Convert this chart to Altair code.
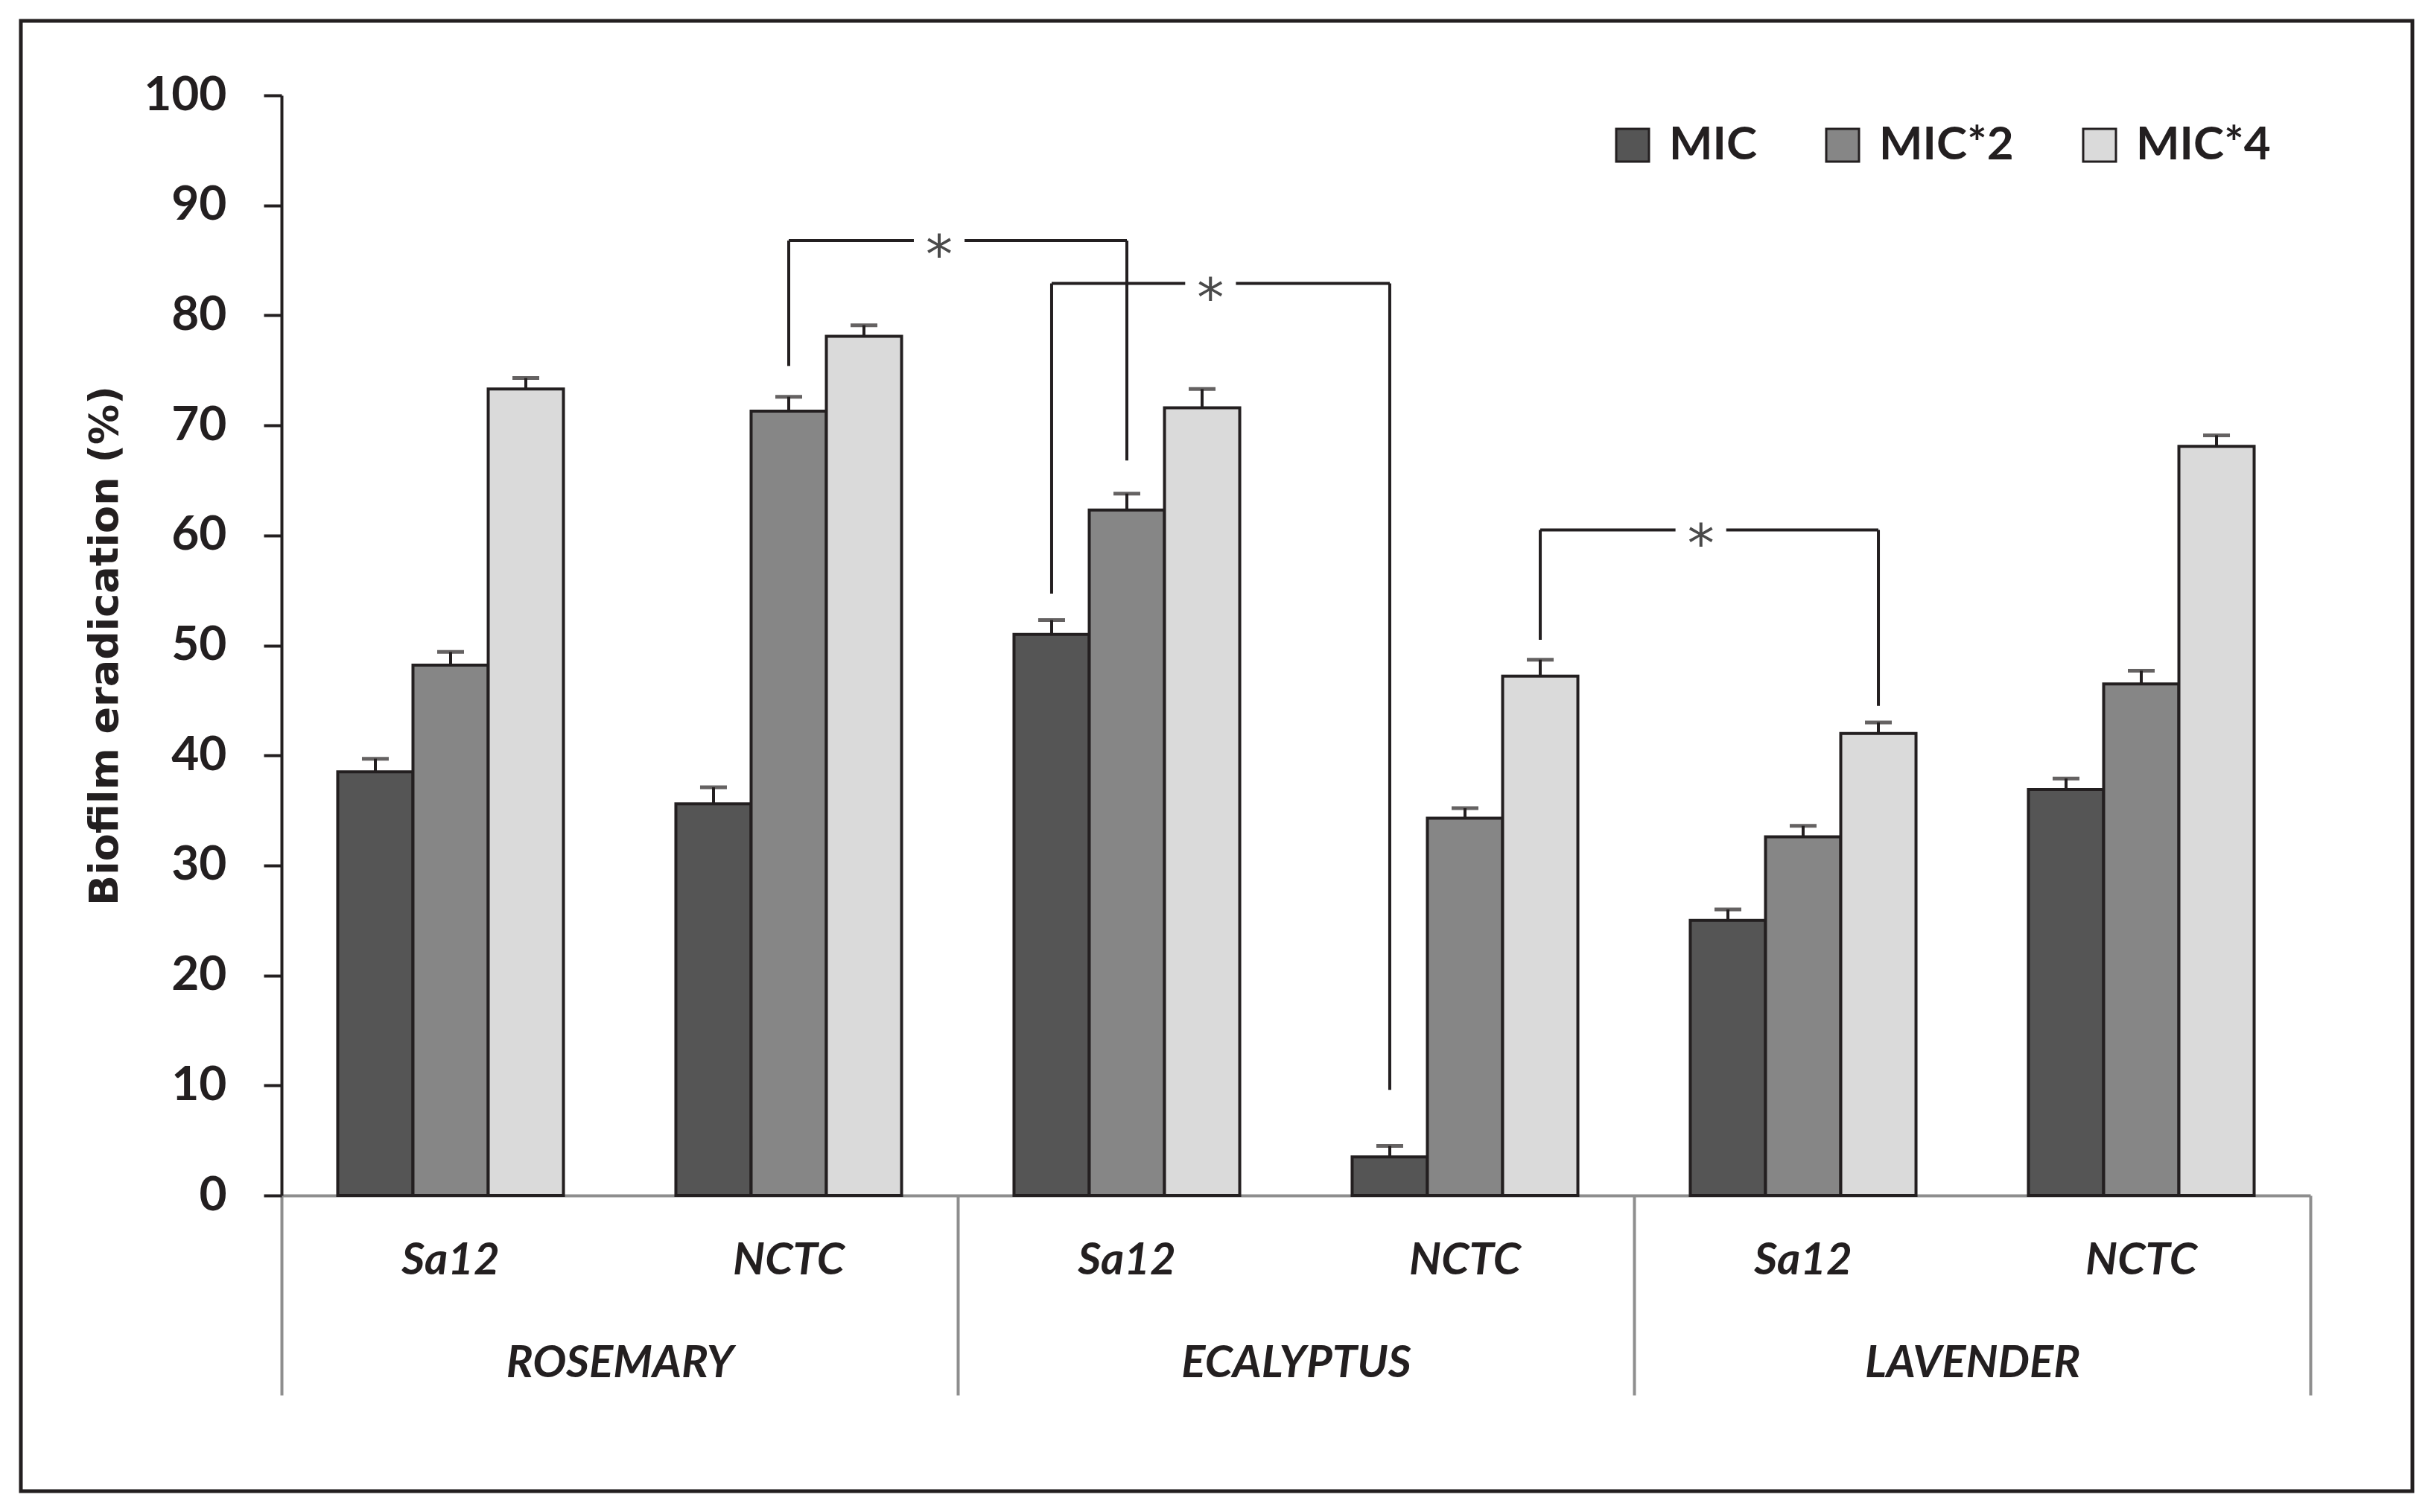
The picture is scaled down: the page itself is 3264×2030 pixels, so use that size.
import altair as alt
import pandas as pd

# ---------------- data ----------------
oils = ["ROSEMARY", "ECALYPTUS", "LAVENDER"]
strains = ["Sa12", "NCTC"]
series = ["MIC", "MIC*2", "MIC*4"]

mic_vals = [38.5, 35.6, 51.0, 3.5, 25.0, 36.9]
mic2_vals = [48.2, 71.3, 62.3, 34.3, 32.6, 46.5]
mic4_vals = [73.3, 78.1, 71.6, 47.2, 42.0, 68.1]

mic_err = [1.2, 1.5, 1.3, 1.0, 1.0, 1.0]
mic2_err = [1.2, 1.3, 1.5, 0.9, 1.0, 1.2]
mic4_err = [1.0, 1.0, 1.7, 1.5, 1.0, 1.0]

# significance brackets: (oil, strain) at each end, series, heights
br_from = [("ROSEMARY", "NCTC"), ("ECALYPTUS", "Sa12"), ("ECALYPTUS", "NCTC")]
br_to = [("ECALYPTUS", "Sa12"), ("ECALYPTUS", "NCTC"), ("LAVENDER", "Sa12")]
br_series = ["MIC*2", "MIC", "MIC*4"]
br_top = [86.8, 82.9, 60.5]
br_from_low = [75.4, 54.7, 50.5]
br_to_low = [66.8, 9.6, 44.5]
br_label = ["*", "*", "*"]
# where the star sits, as a fraction of the way from the left leg to the right leg
br_star_frac = [0.445, 0.47, 0.475]

# ---------------- styling / layout ----------------
BLACK = "#231f20"
GRAY = "#8e8e8e"
FILLS = ["#555555", "#868686", "#dadada"]
VIEW_W, VIEW_H = 3211, 1974
X0, X1 = 350, 3074          # plot extent inside the framed view
Y0, Y100 = 1577, 100
P_OUT = 0.747               # outer padding of the series offset scale
GAP = 0.075                 # half gap around the star, in group units

keys = [f"{o}|{s}" for o in oils for s in strains]
val_lists = [mic_vals, mic2_vals, mic4_vals]
err_lists = [mic_err, mic2_err, mic4_err]

rows = []
for si, s in enumerate(series):
    for gi, k in enumerate(keys):
        v = val_lists[si][gi]
        e = err_lists[si][gi]
        rows.append({"grp": k, "series": s, "value": v, "hi": v + e})
df = pd.DataFrame(rows)


def center(key, s):
    g = keys.index(key)
    si = series.index(s)
    return g + (P_OUT + si + 0.5) / (3 + 2 * P_OUT)


vrows, hrows, srows = [], [], []
for i in range(len(br_series)):
    xa = center(f"{br_from[i][0]}|{br_from[i][1]}", br_series[i])
    xb = center(f"{br_to[i][0]}|{br_to[i][1]}", br_series[i])
    xm = xa + (xb - xa) * br_star_frac[i]
    vrows.append({"x": xa, "ylo": br_from_low[i], "yhi": br_top[i]})
    vrows.append({"x": xb, "ylo": br_to_low[i], "yhi": br_top[i]})
    hrows.append({"xa": xa, "xb": xm - GAP, "y": br_top[i]})
    hrows.append({"xa": xm + GAP, "xb": xb, "y": br_top[i]})
    srows.append({"x": xm, "y": br_top[i], "t": br_label[i]})
vdf, hdf, sdf = pd.DataFrame(vrows), pd.DataFrame(hrows), pd.DataFrame(srows)

# ---------------- scales & axes ----------------
yscale = alt.Scale(domain=[0, 100], range=[Y0, Y100], nice=False, zero=True)
y_axis = alt.Axis(
    title="Biofilm eradication (%)", orient="left", offset=-X0,
    values=list(range(0, 101, 10)), grid=False,
    domainColor=BLACK, domainWidth=4, tickColor=BLACK, tickWidth=4, tickSize=24,
    labelFont="Lato", labelFontWeight="bold", labelFontSize=64, labelColor=BLACK,
    labelPadding=50,
    titleFont="DejaVu Sans", titleFontWeight="bold", titleFontSize=54,
    titleColor=BLACK, titlePadding=24,
)

xscale = alt.Scale(domain=keys, range=[X0, X1], paddingInner=0, paddingOuter=0)
strain_axis = alt.Axis(
    orient="bottom", offset=-(VIEW_H - Y0), title=None,
    ticks=False, tickSize=0, domain=False, grid=False,
    labelExpr="split(datum.label, '|')[1]",
    labelFont="Lato", labelFontStyle="italic", labelFontWeight="bold",
    labelFontSize=60, labelColor=BLACK, labelPadding=87,
    labelBaseline="middle", labelAngle=0, labelLimit=600,
)

oil_expr = " : ".join(
    [f"datum.value == {2 * i + 1} ? '{o}'" for i, o in enumerate(oils)]
) + " : ''"
bx_scale = alt.Scale(domain=[0, 2 * len(oils)], range=[X0, X1], nice=False, zero=False)
oil_axis = alt.Axis(
    orient="bottom", offset=-(VIEW_H - Y0), title=None, grid=False,
    values=list(range(0, 2 * len(oils) + 1)),
    labelExpr=oil_expr,
    tickSize=268, tickWidth=4, tickColor=GRAY,
    tickOpacity={"condition": {"test": "datum.value % 2 == 0", "value": 1}, "value": 0},
    domain=True, domainColor=GRAY, domainWidth=4,
    labelFont="Lato", labelFontStyle="italic", labelFontWeight="bold",
    labelFontSize=60, labelColor=BLACK, labelPadding=-43,
    labelBaseline="middle", labelAngle=0, labelLimit=800,
    labelFlush=False, labelOverlap=False,
)

legend = alt.Legend(
    orient="none", legendX=2133, legendY=136, direction="horizontal", title=None,
    symbolType="square", symbolSize=1936, symbolStrokeColor=BLACK,
    symbolStrokeWidth=3, labelFont="Lato", labelFontWeight="bold",
    labelFontSize=62, labelColor=BLACK, labelOffset=18, columnPadding=84,
    labelLimit=600,
)

xenc = alt.X("grp:N", sort=keys, scale=xscale, axis=strain_axis)
xoff = alt.XOffset("series:N", sort=series,
                   scale=alt.Scale(domain=series, paddingInner=0, paddingOuter=P_OUT))

base = alt.Chart(df)
bars = base.mark_bar(stroke=BLACK, strokeWidth=4).encode(
    x=xenc, xOffset=xoff,
    y=alt.Y("value:Q", scale=yscale, axis=y_axis),
    fill=alt.Fill("series:N", sort=series,
                  scale=alt.Scale(domain=series, range=FILLS), legend=legend),
)
stems = base.mark_rule(color=BLACK, strokeWidth=4).encode(
    x=xenc, xOffset=xoff,
    y=alt.Y("value:Q", scale=yscale, axis=y_axis), y2="hi:Q",
)
caps = base.mark_tick(color=BLACK, thickness=5, size=36).encode(
    x=xenc, xOffset=xoff,
    y=alt.Y("hi:Q", scale=yscale, axis=y_axis),
)

vr = alt.Chart(vdf).mark_rule(color=BLACK, strokeWidth=4).encode(
    x=alt.X("x:Q", scale=bx_scale, axis=oil_axis),
    y=alt.Y("ylo:Q", scale=yscale, axis=y_axis), y2="yhi:Q",
)
hr = alt.Chart(hdf).mark_rule(color=BLACK, strokeWidth=4).encode(
    x=alt.X("xa:Q", scale=bx_scale, axis=oil_axis), x2="xb:Q",
    y=alt.Y("y:Q", scale=yscale, axis=y_axis),
)
stars = alt.Chart(sdf).mark_text(
    font="DejaVu Sans", fontSize=72, color="#4a4a4a",
    baseline="alphabetic", align="center", dy=43,
).encode(
    x=alt.X("x:Q", scale=bx_scale, axis=oil_axis),
    y=alt.Y("y:Q", scale=yscale, axis=y_axis),
    text="t:N",
)

main = alt.layer(bars, stems, caps)
brk = alt.layer(vr, hr, stars)

chart = (
    alt.layer(main, brk)
    .resolve_scale(x="independent")
    .resolve_axis(x="independent")
    .properties(width=VIEW_W, height=VIEW_H,
                padding={"left": 20, "top": 20, "right": 4, "bottom": 4},
                background="white")
    .configure_view(stroke=BLACK, strokeWidth=5)
)

chart.save("out.html", embed_options={"renderer": "svg", "actions": False})
